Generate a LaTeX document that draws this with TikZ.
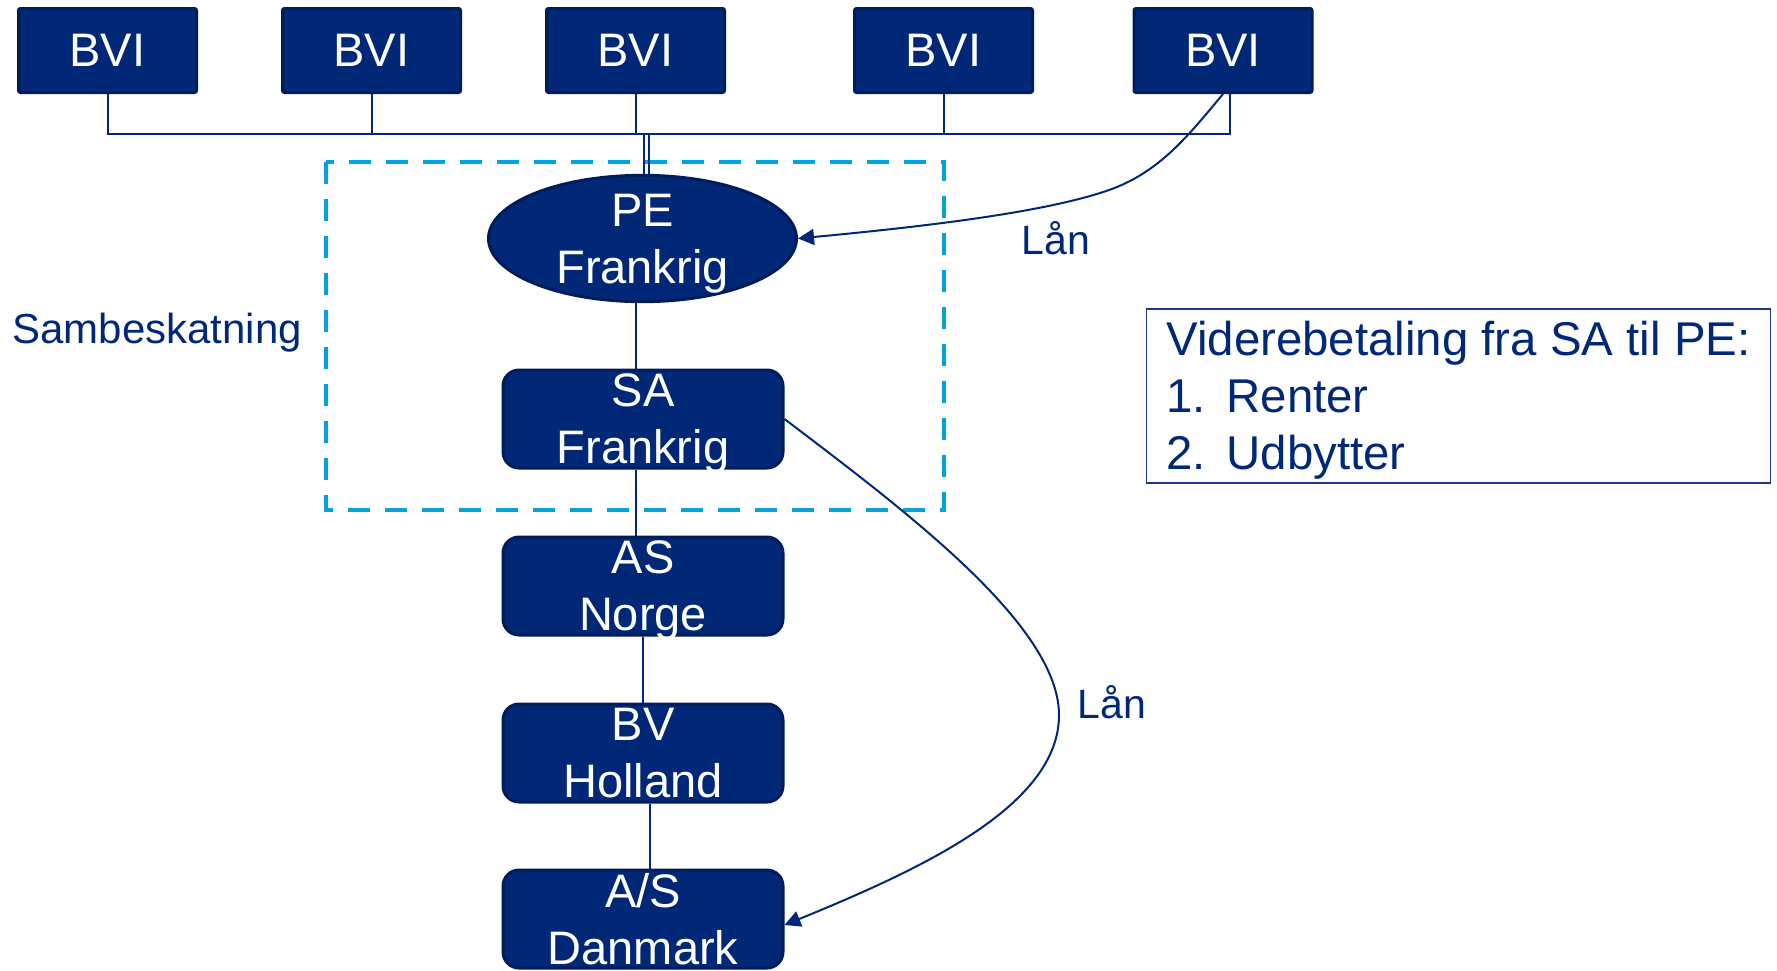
\documentclass[tikz,border=0pt]{standalone}
\usepackage{fontspec}
\setmainfont{Liberation Sans}
\usetikzlibrary{shapes.geometric,arrows.meta}

\definecolor{navyfill}{RGB}{0,40,118}
\definecolor{navyedge}{RGB}{0,28,90}
\definecolor{navyline}{RGB}{0,40,120}
\definecolor{infoedge}{RGB}{30,58,135}
\definecolor{groupcyan}{RGB}{0,163,224}

\begin{document}
\begin{tikzpicture}[x=0.5pt,y=-0.5pt,
  entity/.style={draw=navyedge, fill=navyfill, line width=1.5pt, text=white,
    font=\fontsize{23.5pt}{28.5pt}\selectfont, align=center, inner sep=0pt, text depth=0pt},
  holder/.style={entity, rectangle, rounded corners=1pt, minimum width=89pt, minimum height=42pt},
  company/.style={entity, rectangle, rounded corners=8pt, minimum width=140pt, minimum height=49pt},
  permest/.style={entity, ellipse, minimum width=154pt, minimum height=63pt},
  conn/.style={draw=navyline, line width=1pt},
  loan/.style={conn, -{Triangle[length=8pt,width=8pt]}},
  tag/.style={text=navyline, inner sep=0pt, anchor=base west},
]
% canvas
\fill[white] (0,0) rectangle (1777,970);
\useasboundingbox (0,0) rectangle (1777,970);

% joint taxation group
\draw[groupcyan, line width=2pt, dash pattern=on 11pt off 7.5pt] (326,162) rectangle (944,510);

% owners
\node[holder] (b1) at (107.5,50.5) {BVI};
\node[holder] (b2) at (371.5,50.5) {BVI};
\node[holder] (b3) at (635.5,50.5) {BVI};
\node[holder] (b4) at (943.5,50.5) {BVI};
\node[holder] (b5) at (1223,50.5) {BVI};

% group chain
\node[permest] (pe) at (642.5,238.5) {PE\\Frankrig};
\node[company] (saFr) at (643,419) {SA\\Frankrig};
\node[company] (asNo) at (643,586) {AS\\Norge};
\node[company] (bvHo) at (643,753) {BV\\Holland};
\node[company] (asDk) at (643,919) {A/S\\Danmark};

% ownership bus
\coordinate (busL) at (107.5,134);
\coordinate (busR) at (1230,134);
\draw[conn] (b1.south) -- (busL) -- (busR) -- (busR |- b5.south);
\draw[conn] (b2.south) -- (b2.south |- busL);
\draw[conn] (b3.south) -- (b3.south |- busL);
\draw[conn] (b4.south) -- (b4.south |- busL);
\draw[conn] ([xshift=0.75pt]pe.north) -- ([xshift=0.75pt]pe.north |- busL);
\draw[conn] ([xshift=3.25pt]pe.north) -- ([xshift=3.25pt]pe.north |- busL);

% ownership chain
\draw[conn] ([xshift=-3.25pt]pe.south) -- ([xshift=-3.25pt]pe.south |- saFr.north);
\draw[conn] ([xshift=-3.5pt]saFr.south) -- ([xshift=-3.5pt]asNo.north);
\draw[conn] (asNo.south) -- (bvHo.north);
\draw[conn] ([xshift=3.5pt]bvHo.south) -- ([xshift=3.5pt]asDk.north);

% loans
\draw[loan] (b5.south) .. controls (1190,133.5) and (1163,168) .. (1117,187)
  .. controls (1052,213) and (908,228) .. (pe.east);
\draw[loan] (saFr.east) .. controls (903.5,509.5) and (1059,625) .. (1059,715)
  .. controls (1059,805) and (924,868) .. ([yshift=-3pt]asDk.east);

% labels
\node[tag, font=\fontsize{21pt}{25pt}\selectfont] (samb) at (12,343) {Sambeskatning};
\node[tag, font=\fontsize{20.5pt}{25pt}\selectfont] (lan1) at (1021,254) {Lån};
\node[tag, font=\fontsize{20.5pt}{25pt}\selectfont] (lan2) at (1077,718) {Lån};

% payment note
\node[draw=infoedge, line width=0.75pt, text=navyline, font=\fontsize{23.7pt}{28.5pt}\selectfont,
  align=left, inner sep=0pt, minimum width=312pt, minimum height=87pt]
  (info) at (1458.5,396) {\rule{0pt}{21.5pt}Viderebetaling fra SA til PE:\\
  \makebox[30pt][l]{1.}Renter\\
  \makebox[30pt][l]{2.}Udbytter};
\end{tikzpicture}
\end{document}
